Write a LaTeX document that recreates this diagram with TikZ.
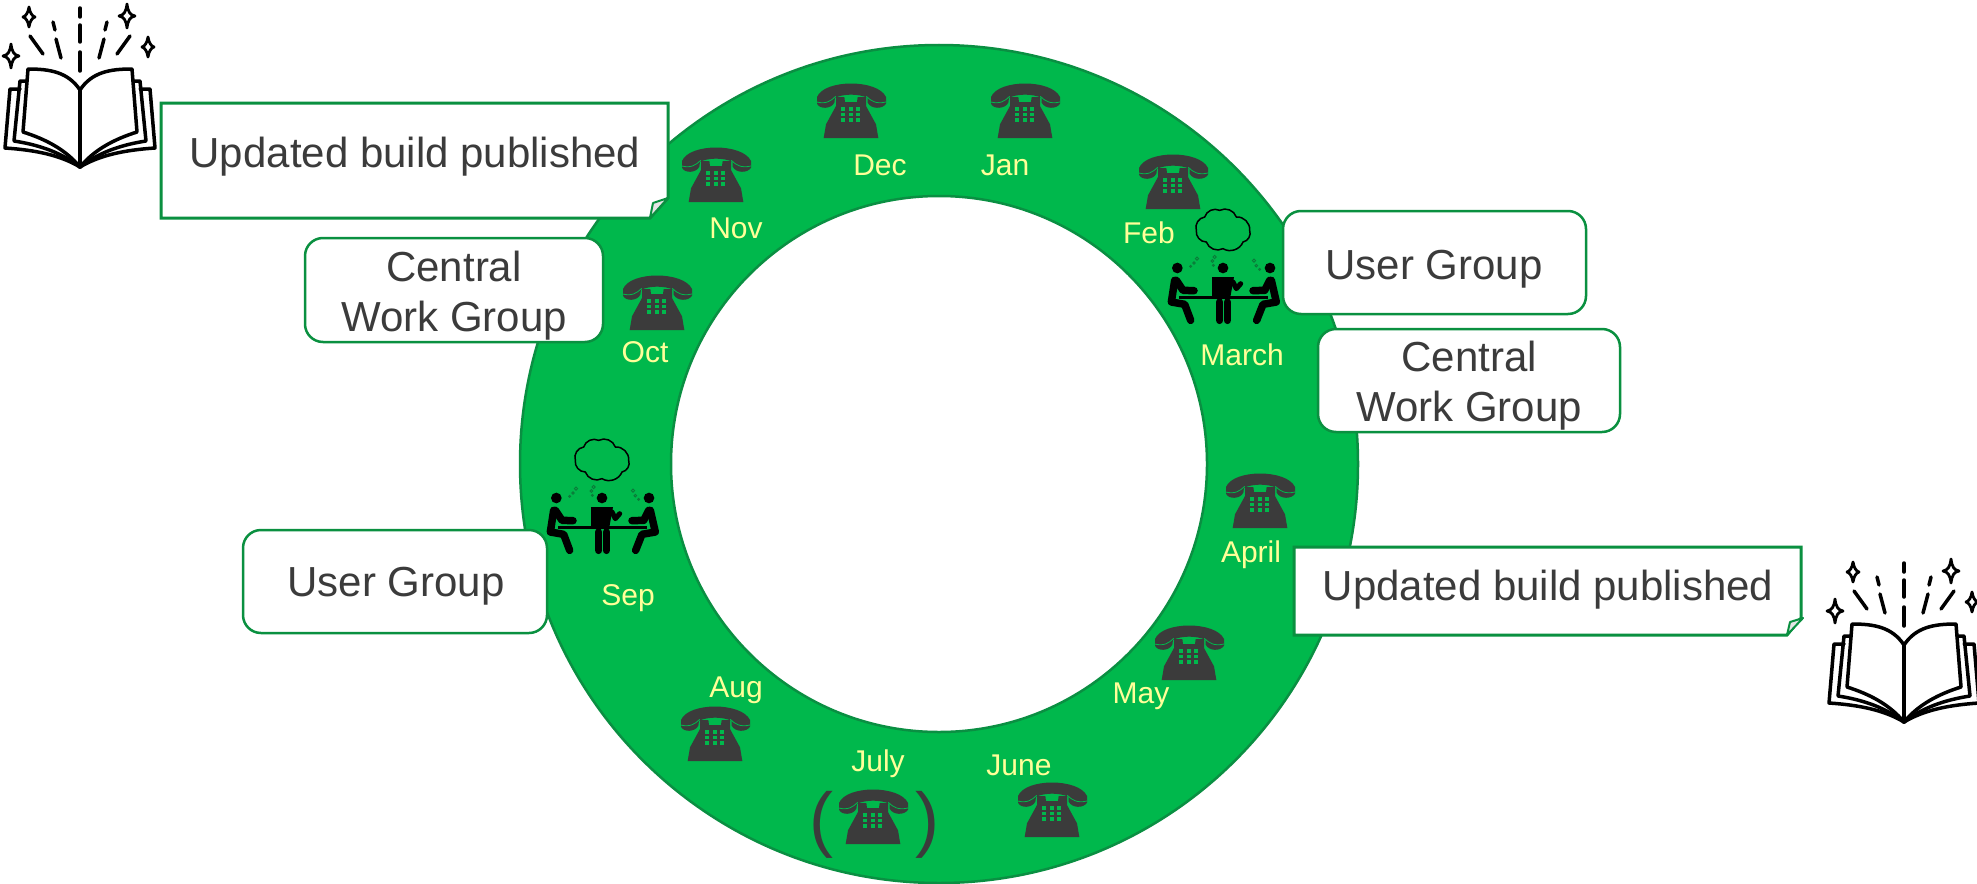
\documentclass[tikz,border=0pt]{standalone}
\usepackage{fontspec}
\setmainfont{Liberation Sans}
\definecolor{ringgreen}{HTML}{00B84C}
\definecolor{ringedge}{HTML}{0A8F42}
\definecolor{boxedge}{HTML}{0A9040}
\definecolor{monthtext}{HTML}{FFFF99}
\definecolor{darktext}{HTML}{3B3B3B}
\definecolor{bubblegreen}{HTML}{0B7A39}
\tikzset{
    ringband/.style={fill=ringgreen, draw=ringedge, line width=2.5pt, even odd rule},
    monthlabel/.style={text=monthtext, font=\fontsize{30}{34}\selectfont, inner sep=0pt},
    grouptext/.style={text=darktext, font=\fontsize{42}{50}\selectfont, align=center, inner sep=0pt},
    groupbox/.style={draw=boxedge, fill=white, line width=2.5pt, rounded corners=18pt},
    notebox/.style={draw=boxedge, fill=white, line width=3pt, line join=miter},
    limb/.style={line width=7.5pt, line cap=round, line join=round, black},
    phone/.pic={
        \begin{scope}[scale=1/3]
            \fill[darktext] (-102,-42) .. controls (-80,-96) and (80,-96) .. (105,-42) -- (105,-22)
                .. controls (95,-5) and (60,-5) .. (50,-25) -- (50,-40)
                .. controls (20,-52) and (-20,-52) .. (-48,-40) -- (-50,-25)
                .. controls (-60,-5) and (-95,-5) .. (-102,-22) -- cycle;
            \fill[darktext] (-82,81) -- (82,81) -- (75,40) -- (45,-15) -- (45,-42) -- (20,-42) -- (18,-27)
                -- (-18,-27) -- (-20,-42) -- (-45,-42) -- (-45,-15) -- (-75,40) -- cycle;
            \draw[ringgreen, line width=0.8pt] (-103,-27) .. controls (-75,-20) and (-60,-30) .. (-46,-44);
            \draw[ringgreen, line width=0.8pt] (105,-27) .. controls (75,-20) and (60,-30) .. (46,-44);
            \foreach \kx in {-24,-1,22} \foreach \ky in {-6,11,27}
                \fill[ringgreen] (\kx-6,\ky-5) rectangle (\kx+6,\ky+5);
        \end{scope}
    },
    meeting/.pic={
        \begin{scope}[scale=1/3]
            \draw[black, line width=1.5pt] (-80,-113) to[bend left=50] (-55,-153) to[bend left=50] (-10,-173)
                to[bend left=50] (40,-153) to[bend left=50] (80,-113) to[bend left=50] (60,-78)
                to[bend left=50] (0,-58) to[bend left=50] (-50,-78) to[bend left=50] cycle;
            \foreach \bx/\by/\br in {-97/-5/3,-87/-15/4,-78/-28/5,-29/-8/3,-32/-21/4,-25/-33/5,110/4/3,100/-7/4,93/-22/5}
                \draw[bubblegreen, line width=0.9pt] (\bx,\by) circle (\br);
            \foreach \hx in {-137,0,141}
                \fill[black] (\hx,0) circle (16);
            \fill[black] (-33,27) -- (33,27) -- (22,87) -- (-33,87) -- cycle;
            \draw[limb] (-145,37) -- (-155,102) -- (-115,109) -- (-97,157);
            \draw[limb] (-140,37) -- (-120,67) -- (-87,68);
            \draw[limb] (145,37) -- (160,102) -- (120,109) -- (101,157);
            \draw[limb] (140,37) -- (125,67) -- (90,68);
            \draw[limb] (-10,102) -- (-10,157);
            \draw[limb] (13,102) -- (13,157);
            \draw[limb, line width=5pt] (30,42) -- (40,62) -- (53,47);
            \draw[black, line width=2.5pt] (-132,88) -- (135,88);
        \end{scope}
    },
    bookicon/.pic={
        \foreach \s in {-1,1} {
            \begin{scope}[xscale=\s, black, line width=3.5pt, line join=round, line cap=round]
                \draw (-60,-78) -- (-70,-78) -- (-75,-19) .. controls (-45,-17) and (-20,-12) .. (0,0);
                \draw (-53,-86) -- (-60,-86) -- (-66,-26) .. controls (-40,-22) and (-18,-14) .. (0,0);
                \draw (0,-77) .. controls (-12,-95) and (-30,-98) .. (-52,-98) -- (-57,-35)
                    .. controls (-35,-28) and (-15,-18) .. (0,0);
                \draw (-27,-145) -- (-25,-137);
                \draw (-24,-128) -- (-19,-109);
                \draw (-50,-131) -- (-37,-113);
            \end{scope}
        }
        \draw[black, line width=3.5pt, line cap=round] (0,-77) -- (0,0);
        \draw[black, line width=3.5pt, line cap=round] (0,-159) -- (0,-150);
        \draw[black, line width=3.5pt, line cap=round] (0,-142) -- (0,-125);
        \draw[black, line width=3.5pt, line cap=round] (0,-115) -- (0,-96);
        \foreach \sx/\sy/\sw/\sh in {-51/-150/6/10,47/-151/8/12,-69/-111/8/12,68/-120/6/10} {
            \begin{scope}[shift={(\sx,\sy)}]
                \draw[black, line width=2.8pt, line join=round] (0,-\sh) .. controls (1,-4) and (3,-1) .. (\sw,0)
                    .. controls (3,1) and (1,4) .. (0,\sh) .. controls (-1,4) and (-3,1) .. (-\sw,0)
                    .. controls (-3,-1) and (-1,-4) .. cycle;
            \end{scope}
        }
    },
}

\begin{document}
\begin{tikzpicture}[x=1pt, y=-1pt]
    \useasboundingbox (0,0) rectangle (1977,883);
    \fill[white] (0,0) rectangle (1977,883);
    \draw[ringband] (939,464) circle (419pt) (939,464) circle (268pt);

    \foreach \px/\py in {851/111,1025/111,716/175,1173/182,657/303,1260/501,1189/653,715/734,1052/810,873/817}
        \pic at (\px,\py) {phone};
    \foreach \mname/\mx/\my in {Dec/880/165,Jan/1005/165,Nov/736/228,Feb/1149/233,Oct/645/352,March/1242/355,April/1251/555,Sep/628/598,May/1141/696,Aug/736/690,June/1019/765,July/878/764}
        \node[monthlabel] (lbl\mname) at (\mx,\my) {\mname};
    \node[text=darktext, font=\fontsize{72}{74}\selectfont, inner sep=0pt] (parenL) at (821,825) {(};
    \node[text=darktext, font=\fontsize{72}{74}\selectfont, inner sep=0pt] (parenR) at (927,825) {)};

    \pic at (1223,268) {meeting};
    \pic at (602,498) {meeting};
    \pic at (80,167) {bookicon};
    \pic at (1904,722) {bookicon};

    % callouts with the folded corner
    \draw[notebox] (161,103) -- (668,103) -- (668,198) -- (650,218) -- (161,218) -- cycle;
    \draw[boxedge, fill=black!10, line width=2pt, line join=round] (668,198) -- (653,203) -- (650,218) -- cycle;
    \draw[notebox] (1294,547) -- (1801,547) -- (1801,618) -- (1787,635) -- (1294,635) -- cycle;
    \draw[boxedge, fill=black!10, line width=2pt, line join=round] (1803,618) -- (1790,622) -- (1787,635) -- cycle;
    \node[grouptext] (buildL) at (415,157) {Updated build published};
    \node[grouptext] (buildR) at (1548,590) {Updated build published};

    \draw[groupbox] (305,238) rectangle (603,342);
    \node[grouptext] (centralL) at (454,296) {Central\\Work Group};
    \draw[groupbox] (1318,329) rectangle (1620,432);
    \node[grouptext] (centralR) at (1469,386) {Central\\Work Group};
    \draw[groupbox] (1283,211) rectangle (1586,314);
    \node[grouptext] (userR) at (1434,269) {User Group};
    \draw[groupbox] (243,530) rectangle (547,633);
    \node[grouptext] (userL) at (396,586) {User Group};
\end{tikzpicture}
\end{document}
